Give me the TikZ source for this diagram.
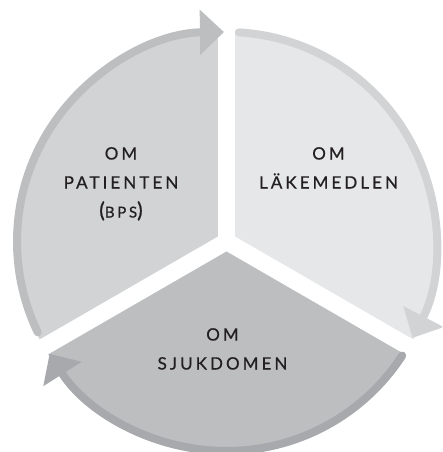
\documentclass[tikz,border=0pt]{standalone}
\usepackage{fontspec}
\setmainfont{Lato}
\newfontfamily\labelfont[LetterSpace=18,FakeBold=0.7]{Lato}
\usetikzlibrary{arrows.meta,calc}
\definecolor{shadeA}{HTML}{E6E7E8}
\definecolor{shadeB}{HTML}{D1D3D4}
\definecolor{shadeC}{HTML}{BCBEC0}
\definecolor{shadeD}{HTML}{A7A9AC}
\definecolor{ink}{HTML}{231F20}
\newcommand{\parsize}{\fontsize{21}{29}\selectfont}
\newcommand{\capsize}{\fontsize{15}{29}\selectfont}
\begin{document}
\begin{tikzpicture}[x=1pt,y=1pt,
  gapline/.style={draw=white,line width=17pt},
  rim/.style={line width=8pt,line cap=round,-{Triangle[length=24pt,width=44pt]}},
  lbl/.style={font=\labelfont\fontsize{17}{29}\selectfont,text=ink,align=center,inner sep=0pt}]
\useasboundingbox (0,0) rectangle (442,452);
\clip (0,0) rectangle (442,452);
\coordinate (C) at (226.5,210.5);
% three wedges of the wheel
\fill[shadeB] (C) -- ($(C)+(90:211)$) arc[start angle=90,end angle=210,radius=211] -- cycle;
\fill[shadeA] (C) -- ($(C)+(-30:211)$) arc[start angle=-30,end angle=90,radius=211] -- cycle;
\fill[shadeC] (C) -- ($(C)+(210:211)$) arc[start angle=210,end angle=330,radius=211] -- cycle;
% white gaps between the wedges
\coordinate (g1) at ($(C)+(90:240)$);
\coordinate (g2) at ($(C)+(210:240)$);
\coordinate (g3) at ($(C)+(330:240)$);
\draw[gapline] (C) -- (g1);
\draw[gapline] (C) -- (g2);
\draw[gapline] (C) -- (g3);
% curved arrows along the rim
\draw[rim,shadeC] ($(C)+(205.7:209.5)$) arc[start angle=205.7,end angle=90.7,radius=209.5];
\draw[rim,shadeB] ($(C)+(86.6:209.5)$) arc[start angle=86.6,end angle=-27.4,radius=209.5];
\draw[rim,shadeD] ($(C)+(-33:209.5)$) arc[start angle=-33,end angle=-147.6,radius=209.5];
% labels
\node[lbl,anchor=north] (patient) at (121,305) {OM\\PATIENTEN\\{\parsize(\capsize BPS\parsize)}};
\node[lbl,anchor=north] (drugs) at (328.5,305) {OM\\LÄKEMEDLEN};
\node[lbl,anchor=north] (disease) at (222.5,124) {OM\\SJUKDOMEN};
\end{tikzpicture}
\end{document}
